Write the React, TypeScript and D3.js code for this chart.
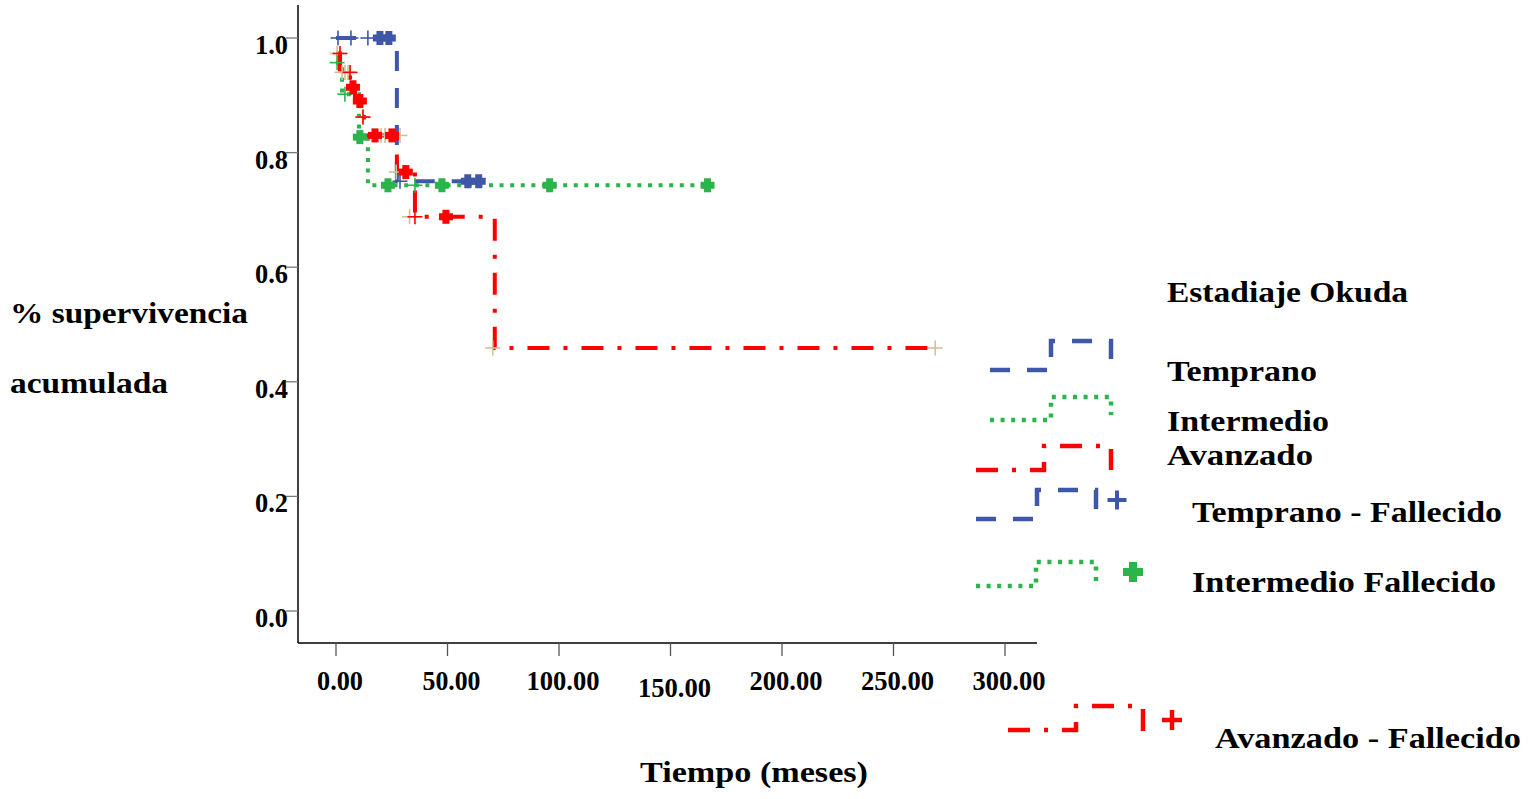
import React from 'react';
import * as d3 from 'd3';

// tick values and labels
const xTicks = [0, 50, 100, 150, 200, 250, 300];
const xTickLabels = ['0.00', '50.00', '100.00', '150.00', '200.00', '250.00', '300.00'];
const yTicks = [0, 0.2, 0.4, 0.6, 0.8, 1.0];
const yTickLabels = ['0.0', '0.2', '0.4', '0.6', '0.8', '1.0'];

// survival steps per group (time in months, cumulative survival)
const tempranoT = [0, 27.3, 65.8];
const tempranoS = [1.0, 0.75, 0.75];
const intermedioT = [0, 2.7, 10.3, 14.3, 166.6];
const intermedioS = [0.957, 0.902, 0.827, 0.743, 0.743];
const avanzadoT = [0, 1.8, 6.3, 8.5, 11.2, 12.5, 27.3, 35.4, 71.2, 268.7];
const avanzadoS = [0.973, 0.94, 0.914, 0.89, 0.862, 0.83, 0.766, 0.688, 0.459, 0.459];

// censored marks (thin +)
const tempranoCensT = [0.9, 6.7, 14.3, 28.7];
const tempranoCensS = [1, 1, 1, 0.75];
const intermedioCensT = [0.5, 4.0, 35.4];
const intermedioCensS = [0.957, 0.902, 0.743];
const avanzadoCensT = [1.8, 6.3, 12.1, 35.4];
const avanzadoCensS = [0.973, 0.94, 0.862, 0.688];
const otherCensT = [0.5, 2.7, 4.0, 5.4, 12.0, 20.2, 22.0, 28.7, 27.0, 33.0, 70.3, 268.7];
const otherCensS = [0.973, 0.94, 0.94, 0.94, 0.862, 0.83, 0.83, 0.83, 0.766, 0.688, 0.459, 0.459];

// fallecido marks (thick +)
const tempranoFallT = [19.7, 23.7, 59.1, 64.0];
const tempranoFallS = [1, 1, 0.75, 0.75];
const intermedioFallT = [10.7, 23.3, 47.5, 95.8, 166.6];
const intermedioFallS = [0.827, 0.743, 0.743, 0.743, 0.743];
const avanzadoFallT = [7.6, 10.7, 17.5, 25.1, 31.3, 49.3];
const avanzadoFallS = [0.914, 0.89, 0.83, 0.83, 0.766, 0.688];

const BLUE = '#3f57a7';
const GREEN = '#2bb44a';
const RED = '#ff0000';
const TAN = '#d3bf98';

const DASH = '20,17';
const DOT = '4,6.6';
const DASHDOT = '22,14,4,14';

const FONT = '"Liberation Serif", "Times New Roman", serif';

const x = d3.scaleLinear().domain([0, 300]).range([336, 1005]);
const y = d3.scaleLinear().domain([0, 1]).range([611, 38]);

const stepLine = d3
  .line<[number, number]>()
  .x(d => x(d[0]))
  .y(d => y(d[1]))
  .curve(d3.curveStepAfter);

const zip = (t: number[], s: number[]) => t.map((v, i) => [v, s[i]] as [number, number]);

const ThinPlus = ({ cx, cy, size, color, sw }: any) => (
  <g stroke={color} strokeWidth={sw}>
    <line x1={cx - size / 2} x2={cx + size / 2} y1={cy} y2={cy} />
    <line x1={cx} x2={cx} y1={cy - size / 2} y2={cy + size / 2} />
  </g>
);

const ThickPlus = ({ cx, cy, size, arm, color }: any) => (
  <g fill={color}>
    <rect x={cx - size / 2} y={cy - arm / 2} width={size} height={arm} />
    <rect x={cx - arm / 2} y={cy - size / 2} width={arm} height={size} />
  </g>
);

const Label = ({ x: lx, y: ly, text, size, width, anchor }: any) => (
  <text
    x={lx}
    y={ly}
    fontFamily={FONT}
    fontWeight="bold"
    fontSize={size}
    textAnchor={anchor || 'start'}
    textLength={width}
    lengthAdjust="spacingAndGlyphs"
  >
    {text}
  </text>
);

const App = () => {
  const series = [
    { t: tempranoT, s: tempranoS, color: BLUE, dash: DASH },
    { t: intermedioT, s: intermedioS, color: GREEN, dash: DOT },
    { t: avanzadoT, s: avanzadoS, color: RED, dash: DASHDOT },
  ];

  const thin = [
    { t: otherCensT, s: otherCensS, color: TAN },
    { t: tempranoCensT, s: tempranoCensS, color: BLUE },
    { t: intermedioCensT, s: intermedioCensS, color: GREEN },
    { t: avanzadoCensT, s: avanzadoCensS, color: RED },
  ];

  const thick = [
    { t: tempranoFallT, s: tempranoFallS, color: BLUE },
    { t: intermedioFallT, s: intermedioFallS, color: GREEN },
    { t: avanzadoFallT, s: avanzadoFallS, color: RED },
  ];

  return (
    <svg
      width={1530}
      height={799}
      style={{ position: 'absolute', left: 0, top: 0, background: '#fff' }}
    >
      {/* axes */}
      <line x1={298} x2={298} y1={5} y2={643} stroke="#000" strokeWidth={1.5} />
      <line x1={298} x2={1037} y1={643} y2={643} stroke="#000" strokeWidth={1.5} />
      {yTicks.map((v, i) => (
        <g key={'y' + i}>
          <line x1={286} x2={298} y1={y(v)} y2={y(v)} stroke="#777" strokeWidth={1.3} />
          <Label x={288} y={y(v) + 16} text={yTickLabels[i]} size={27} width={33} anchor="end" />
        </g>
      ))}
      {xTicks.map((v, i) => (
        <g key={'x' + i}>
          <line x1={x(v)} x2={x(v)} y1={643} y2={656} stroke="#555" strokeWidth={1.3} />
          <Label
            x={x(v) + 4}
            y={v === 150 ? 697 : 690}
            text={xTickLabels[i]}
            size={28}
            width={v === 0 ? 46 : v === 50 ? 58 : 73}
            anchor="middle"
          />
        </g>
      ))}

      {/* survival curves */}
      {series.map((d, i) => (
        <path
          key={'s' + i}
          d={stepLine(zip(d.t, d.s)) || ''}
          fill="none"
          stroke={d.color}
          strokeWidth={4}
          strokeDasharray={d.dash}
        />
      ))}

      {/* markers */}
      {thin.map((d, i) =>
        d.t.map((t, j) => (
          <ThinPlus key={'c' + i + '-' + j} cx={x(t)} cy={y(d.s[j])} size={15} color={d.color} sw={1.6} />
        ))
      )}
      {thick.map((d, i) =>
        d.t.map((t, j) => (
          <ThickPlus key={'f' + i + '-' + j} cx={x(t)} cy={y(d.s[j])} size={14} arm={7} color={d.color} />
        ))
      )}

      {/* axis titles */}
      <Label x={10} y={323} text="% supervivencia" size={30} width={238} />
      <Label x={10} y={393} text="acumulada" size={30} width={158} />
      <Label x={640} y={782} text="Tiempo (meses)" size={30} width={228} />

      {/* legend */}
      <Label x={1167} y={302} text="Estadiaje Okuda" size={30} width={241} />

      <path d="M990,370 H1051 V341 H1111 V360" fill="none" stroke={BLUE} strokeWidth={4.5} strokeDasharray={DASH} />
      <Label x={1167} y={381} text="Temprano" size={30} width={150} />

      <path d="M990,420 H1051 V397 H1111 V415" fill="none" stroke={GREEN} strokeWidth={4.5} strokeDasharray={DOT} />
      <Label x={1167} y={431} text="Intermedio" size={30} width={162} />

      <path d="M976,470 H1044 V446 H1111 V470" fill="none" stroke={RED} strokeWidth={4.5} strokeDasharray={DASHDOT} />
      <Label x={1167} y={465} text="Avanzado" size={30} width={146} />

      <path d="M976,519 H1037 V490 H1096 V510" fill="none" stroke={BLUE} strokeWidth={4.5} strokeDasharray={DASH} />
      <ThinPlus cx={1117} cy={500} size={19} color={BLUE} sw={4} />
      <Label x={1192} y={522} text="Temprano - Fallecido" size={30} width={310} />

      <path d="M976,586 H1036 V562 H1096 V582" fill="none" stroke={GREEN} strokeWidth={4.5} strokeDasharray={DOT} />
      <ThickPlus cx={1133} cy={572} size={20} arm={8} color={GREEN} />
      <Label x={1192} y={592} text="Intermedio Fallecido" size={30} width={304} />

      <path d="M1008,730 H1076 V706 H1143 V732" fill="none" stroke={RED} strokeWidth={4.5} strokeDasharray={DASHDOT} />
      <ThinPlus cx={1172} cy={720} size={20} color={RED} sw={4.5} />
      <Label x={1215} y={748} text="Avanzado - Fallecido" size={30} width={306} />
    </svg>
  );
};

export default App;
